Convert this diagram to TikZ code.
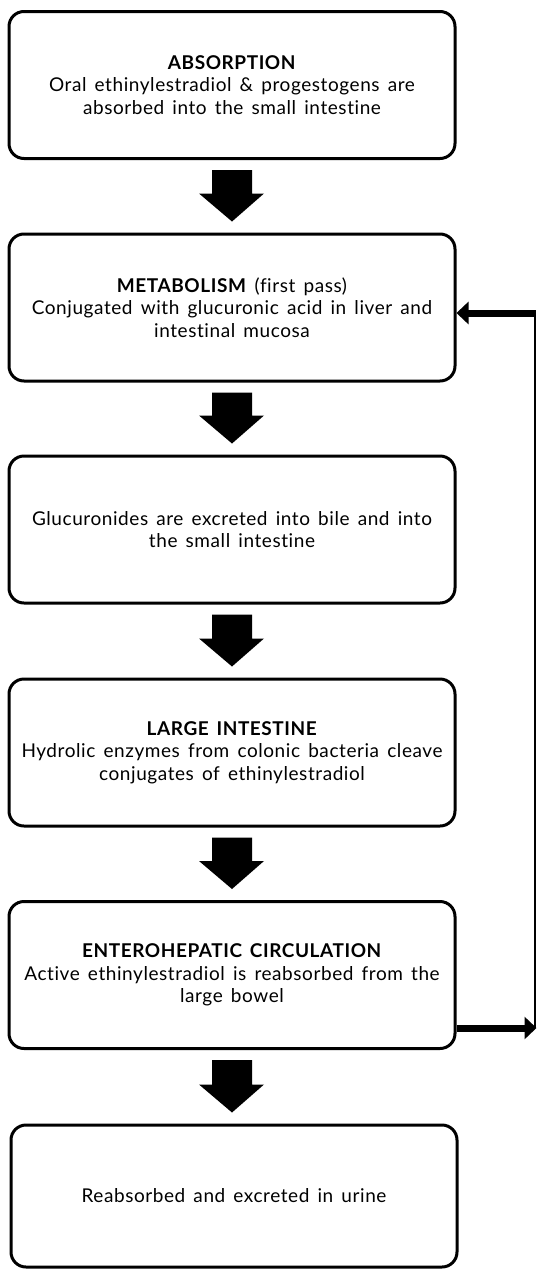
\documentclass[tikz,border=0pt]{standalone}
\usepackage{fontspec}
\setmainfont{Lato}[LetterSpace=3, WordSpace=1.5, Ligatures=NoCommon]
\usetikzlibrary{calc,arrows.meta}
\tikzset{
  box/.style={draw=black, line width=3pt, rounded corners=15pt, minimum width=446pt, minimum height=147pt, inner sep=0pt, align=center, font=\fontsize{19}{22.5}\selectfont},
  thickconn/.style={line width=7pt, -{Triangle[length=12pt,width=22pt]}},
  thinconn/.style={line width=2pt},
}
\newcommand\blockarrow[2]{%
  \fill[black] let \p1=(#1.south), \p2=(#2.north) in
    (212pt,\y1-10pt) -- (252pt,\y1-10pt) -- (252pt,\y2+39pt) -- (264pt,\y2+39pt) -- (232pt,\y2+11pt) -- (199pt,\y2+39pt) -- (212pt,\y2+39pt) -- cycle;}
\begin{document}
\begin{tikzpicture}[x=1pt,y=-1pt]
\useasboundingbox (0,0) rectangle (537,1272);
\node[box] (b1) at (232,85) {\textbf{ABSORPTION}\\Oral ethinylestradiol \& progestogens are\\absorbed into the small intestine};
\node[box] (b2) at (232,307.5) {\textbf{METABOLISM} (first pass)\\Conjugated with glucuronic acid in liver and\\intestinal mucosa};
\node[box] (b3) at (232,529.5) {Glucuronides are excreted into bile and into\\the small intestine};
\node[box] (b4) at (232,752.5) {\textbf{LARGE INTESTINE}\\Hydrolic enzymes from colonic bacteria cleave\\conjugates of ethinylestradiol};
\node[box] (b5) at (232,975) {\textbf{ENTEROHEPATIC CIRCULATION}\\Active ethinylestradiol is reabsorbed from the\\large bowel};
\node[box, minimum height=142pt] (b6) at (234,1196) {Reabsorbed and excreted in urine};
\blockarrow{b1}{b2}
\blockarrow{b2}{b3}
\blockarrow{b3}{b4}
\blockarrow{b4}{b5}
\blockarrow{b5}{b6}
\coordinate (rb) at (536.5,1028);
\coordinate (rt) at (535,313);
\coordinate (rbv) at (535,1028);
\draw[thickconn] (b5.east |- rb) -- (rb);
\draw[thinconn] (rbv) -- (535,309.5);
\draw[thickconn] (rt) -- (b2.east |- rt);
\end{tikzpicture}
\end{document}
